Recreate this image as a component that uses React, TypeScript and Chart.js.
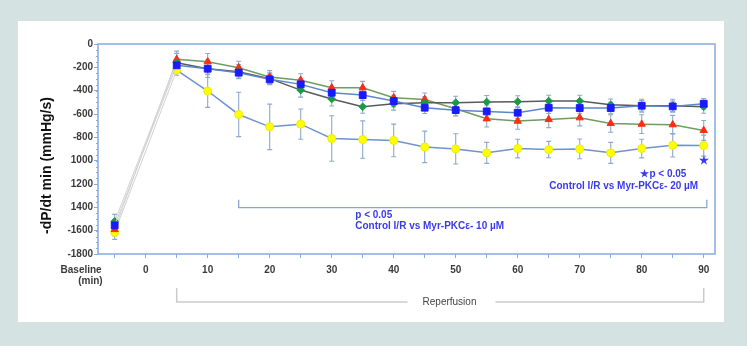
import React, { useEffect, useRef } from 'react';
import { Chart, registerables } from 'chart.js';
Chart.register(...registerables);

const minutes = [-5, 5, 10, 15, 20, 25, 30, 35, 40, 45, 50, 55, 60, 65, 70, 75, 80, 85, 90];

const blueVals = [-1555, -183, -212, -246, -303, -346, -418, -438, -489, -546, -567, -578, -589, -546, -549, -549, -529, -535, -512];
const greenVals = [-1520, -160, -212, -237, -297, -395, -472, -538, -512, -503, -503, -497, -494, -489, -489, -521, -529, -529, -538];
const redVals = [-1590, -131, -152, -203, -283, -310, -375, -375, -461, -475, -555, -641, -661, -647, -632, -681, -687, -692, -741];
const yellowVals = [-1615, -223, -403, -604, -710, -687, -810, -819, -827, -882, -899, -933, -896, -905, -899, -933, -896, -868, -871];

const blueErr = [50, 50, 45, 45, 45, 45, 50, 45, 50, 50, 50, 55, 50, 50, 45, 50, 45, 45, 45];
const greenErr = [60, 80, 75, 60, 50, 60, 60, 55, 55, 50, 55, 55, 50, 50, 50, 50, 55, 55, 55];
const redErr = [55, 70, 70, 55, 55, 55, 60, 55, 55, 55, 60, 70, 70, 70, 70, 75, 80, 80, 85];
const yellowErr = [60, 45, 140, 190, 195, 130, 195, 160, 140, 135, 130, 90, 80, 70, 85, 90, 80, 100, 90];

const yTickValues = [0, -200, -400, -600, -800, -1000, -1200, -1400, -1600, -1800];
const yTickLabels = ['0', '-200', '-400', '-600', '-800', '1000', '1200', '1400', '-1600', '-1800'];
const xTickValues = [-5, 0, 5, 10, 15, 20, 25, 30, 35, 40, 45, 50, 55, 60, 65, 70, 75, 80, 85, 90];
const xLabeled = [0, 10, 20, 30, 40, 50, 60, 70, 80, 90];

const yAxisTitle = '-dP/dt min (mmHg/s)';
const note10 = ['p < 0.05', 'Control I/R vs Myr-PKC\u03b5- 10 \u00b5M'];
const note20 = ['\u2605p < 0.05', 'Control I/R vs Myr-PKC\u03b5- 20 \u00b5M'];

const FONT = '"Liberation Sans", Arial, sans-serif';

export default function App() {
  const ref = useRef<HTMLCanvasElement>(null);

  useEffect(() => {
    const canvas = ref.current!;
    const pts = (vals: number[]) => vals.map((v, i) => ({ x: minutes[i], y: v }));
    const errs = [blueErr, greenErr, redErr, yellowErr];
    const firstSeg = (color: string) => ({
      borderColor: (c: any) => (c.p0DataIndex === 0 ? '#d2d2d2' : color),
      borderWidth: (c: any) => (c.p0DataIndex === 0 ? 1 : 1.5),
    });

    const bgPlugin = {
      id: 'bg',
      beforeDraw(chart: any) {
        const ctx = chart.ctx;
        ctx.save();
        ctx.fillStyle = '#ffffff';
        ctx.fillRect(0, 0, 754, 356);
        ctx.fillStyle = '#d4e2e2';
        ctx.fillRect(0, 0, 747, 346);
        ctx.fillStyle = '#ffffff';
        ctx.fillRect(18, 21, 706, 301);
        ctx.restore();
      },
    };

    const errPlugin = {
      id: 'err',
      beforeDatasetsDraw(chart: any) {
        const ctx = chart.ctx;
        const xs = chart.scales.x;
        const ys = chart.scales.y;
        ctx.save();
        ctx.strokeStyle = '#8fa9cc';
        ctx.lineWidth = 1.1;
        chart.data.datasets.forEach((ds: any, di: number) => {
          const e = errs[di];
          ds.data.forEach((p: any, i: number) => {
            const x = xs.getPixelForValue(p.x);
            const y1 = ys.getPixelForValue(p.y + e[i]);
            const y2 = ys.getPixelForValue(p.y - e[i]);
            ctx.beginPath();
            ctx.moveTo(x, y1);
            ctx.lineTo(x, y2);
            ctx.moveTo(x - 2.5, y1);
            ctx.lineTo(x + 2.5, y1);
            ctx.moveTo(x - 2.5, y2);
            ctx.lineTo(x + 2.5, y2);
            ctx.stroke();
          });
        });
        ctx.restore();
      },
    };

    const annPlugin = {
      id: 'ann',
      afterDraw(chart: any) {
        const ctx = chart.ctx;
        const xs = chart.scales.x;
        const ys = chart.scales.y;
        const a = chart.chartArea;
        ctx.save();
        ctx.strokeStyle = '#86abdf';
        ctx.lineWidth = 1.5;
        ctx.strokeRect(a.left, a.top, a.right - a.left, a.bottom - a.top);
        ctx.lineWidth = 1;
        for (let v = -1800; v <= 0; v += 50) {
          const y = Math.round(ys.getPixelForValue(v)) + 0.5;
          ctx.beginPath();
          ctx.moveTo(a.left - 2, y);
          ctx.lineTo(a.left, y);
          ctx.stroke();
        }
        ctx.save();
        ctx.translate(47, 165.5);
        ctx.rotate(-Math.PI / 2);
        ctx.fillStyle = '#111111';
        ctx.font = 'bold 14px ' + FONT;
        ctx.textAlign = 'center';
        ctx.textBaseline = 'middle';
        ctx.fillText(yAxisTitle, 0, 0);
        ctx.restore();
        ctx.fillStyle = '#3a3a3a';
        ctx.font = 'bold 10px ' + FONT;
        ctx.textBaseline = 'middle';
        ctx.textAlign = 'right';
        const xb = xs.getPixelForValue(-5);
        ctx.fillText('Baseline', xb - 13, 270.5);
        ctx.fillText('(min)', xb - 12, 281.5);
        ctx.strokeStyle = '#8aa6cf';
        ctx.lineWidth = 1.3;
        ctx.beginPath();
        const bx1 = xs.getPixelForValue(15);
        const bx2 = xs.getPixelForValue(90.5);
        const by = ys.getPixelForValue(-1402);
        const byTop = ys.getPixelForValue(-1334);
        ctx.moveTo(bx1, byTop);
        ctx.lineTo(bx1, by);
        ctx.lineTo(bx2, by);
        ctx.lineTo(bx2, byTop);
        ctx.stroke();
        ctx.fillStyle = '#3a3aee';
        ctx.font = 'bold 10px ' + FONT;
        ctx.textAlign = 'left';
        ctx.fillText(note10[0], xs.getPixelForValue(33.8), ys.getPixelForValue(-1467));
        ctx.fillText(note10[1], xs.getPixelForValue(33.8), ys.getPixelForValue(-1566));
        ctx.textAlign = 'right';
        ctx.fillText(note20[0], xs.getPixelForValue(87.2), ys.getPixelForValue(-1119));
        ctx.fillText(note20[1], xs.getPixelForValue(89.1), ys.getPixelForValue(-1222));
        ctx.textAlign = 'center';
        ctx.font = 'bold 11px ' + FONT;
        ctx.fillText('\u2605', xs.getPixelForValue(90), ys.getPixelForValue(-1005));
        const r1 = xs.getPixelForValue(5);
        const r2 = xs.getPixelForValue(90);
        const rc = xs.getPixelForValue(49);
        const ry = a.bottom + 48;
        ctx.strokeStyle = '#cbcbcb';
        ctx.lineWidth = 1.5;
        ctx.beginPath();
        ctx.moveTo(r1, ry - 14);
        ctx.lineTo(r1, ry);
        ctx.lineTo(rc - 42, ry);
        ctx.moveTo(rc + 46, ry);
        ctx.lineTo(r2, ry);
        ctx.lineTo(r2, ry - 14);
        ctx.stroke();
        ctx.fillStyle = '#444444';
        ctx.font = '10px ' + FONT;
        ctx.fillText('Reperfusion', rc, ry);
        ctx.restore();
      },
    };

    const chart = new Chart(canvas, {
      type: 'line',
      data: {
        datasets: [
          {
            label: 'Myr-PKC 20',
            data: pts(blueVals),
            borderColor: '#5c87c9',
            borderWidth: 1.5,
            pointStyle: 'rect',
            pointRadius: 4.8,
            pointBackgroundColor: '#1a1aff',
            pointBorderColor: '#1a1aff',
            pointBorderWidth: 1,
            segment: firstSeg('#5c87c9'),
          },
          {
            label: 'Green',
            data: pts(greenVals),
            borderColor: '#5a5a5a',
            borderWidth: 1.5,
            pointStyle: 'rectRot',
            pointRadius: 3.8,
            pointBackgroundColor: '#1a9a45',
            pointBorderColor: '#1a9a45',
            pointBorderWidth: 1,
            segment: firstSeg('#5a5a5a'),
          },
          {
            label: 'Red',
            data: pts(redVals),
            borderColor: '#6f9d60',
            borderWidth: 1.5,
            pointStyle: 'triangle',
            pointRadius: 4.2,
            pointBackgroundColor: '#ff2c12',
            pointBorderColor: '#ff2c12',
            pointBorderWidth: 1,
            segment: firstSeg('#6f9d60'),
          },
          {
            label: 'Control I/R',
            data: pts(yellowVals),
            borderColor: '#6f93cc',
            borderWidth: 1.5,
            pointStyle: 'circle',
            pointRadius: 4,
            pointBackgroundColor: '#ffff00',
            pointBorderColor: '#eeee00',
            pointBorderWidth: 1,
            segment: firstSeg('#6f93cc'),
          },
        ],
      },
      options: {
        responsive: false,
        maintainAspectRatio: false,
        animation: false,
        layout: { padding: { left: 0, top: 44, right: 39, bottom: 0 } },
        plugins: { legend: { display: false }, tooltip: { enabled: false } },
        scales: {
          x: {
            type: 'linear',
            min: -7.69,
            max: 91.82,
            afterFit: (s: any) => {
              s.height = 102;
            },
            afterBuildTicks: (s: any) => {
              s.ticks = xTickValues.map((v) => ({ value: v }));
            },
            ticks: {
              autoSkip: false,
              maxRotation: 0,
              padding: 6,
              color: '#3a3a3a',
              font: { family: FONT, size: 10, weight: 'bold' },
              callback: (v: any) => (xLabeled.includes(Number(v)) ? String(v) : ''),
            },
            grid: { display: true, drawOnChartArea: false, drawTicks: true, tickLength: 4, color: '#86abdf' },
            border: { display: false },
          },
          y: {
            type: 'linear',
            min: -1800,
            max: 0,
            afterFit: (s: any) => {
              s.width = 98;
            },
            afterBuildTicks: (s: any) => {
              s.ticks = yTickValues.map((v) => ({ value: v }));
            },
            ticks: {
              autoSkip: false,
              padding: 1,
              color: '#3a3a3a',
              font: { family: FONT, size: 10, weight: 'bold' },
              callback: (v: any) => {
                const i = yTickValues.indexOf(Number(v));
                return i >= 0 ? yTickLabels[i] : '';
              },
            },
            grid: { display: true, drawOnChartArea: false, drawTicks: true, tickLength: 4, color: '#86abdf' },
            border: { display: false },
          },
        },
      },
      plugins: [bgPlugin, errPlugin, annPlugin],
    } as any);

    return () => chart.destroy();
  }, []);

  return (
    <div style={{ position: 'fixed', left: 0, top: 0, width: 754, height: 356 }}>
      <canvas ref={ref} width={754} height={356} style={{ display: 'block', width: 754, height: 356 }} />
    </div>
  );
}
